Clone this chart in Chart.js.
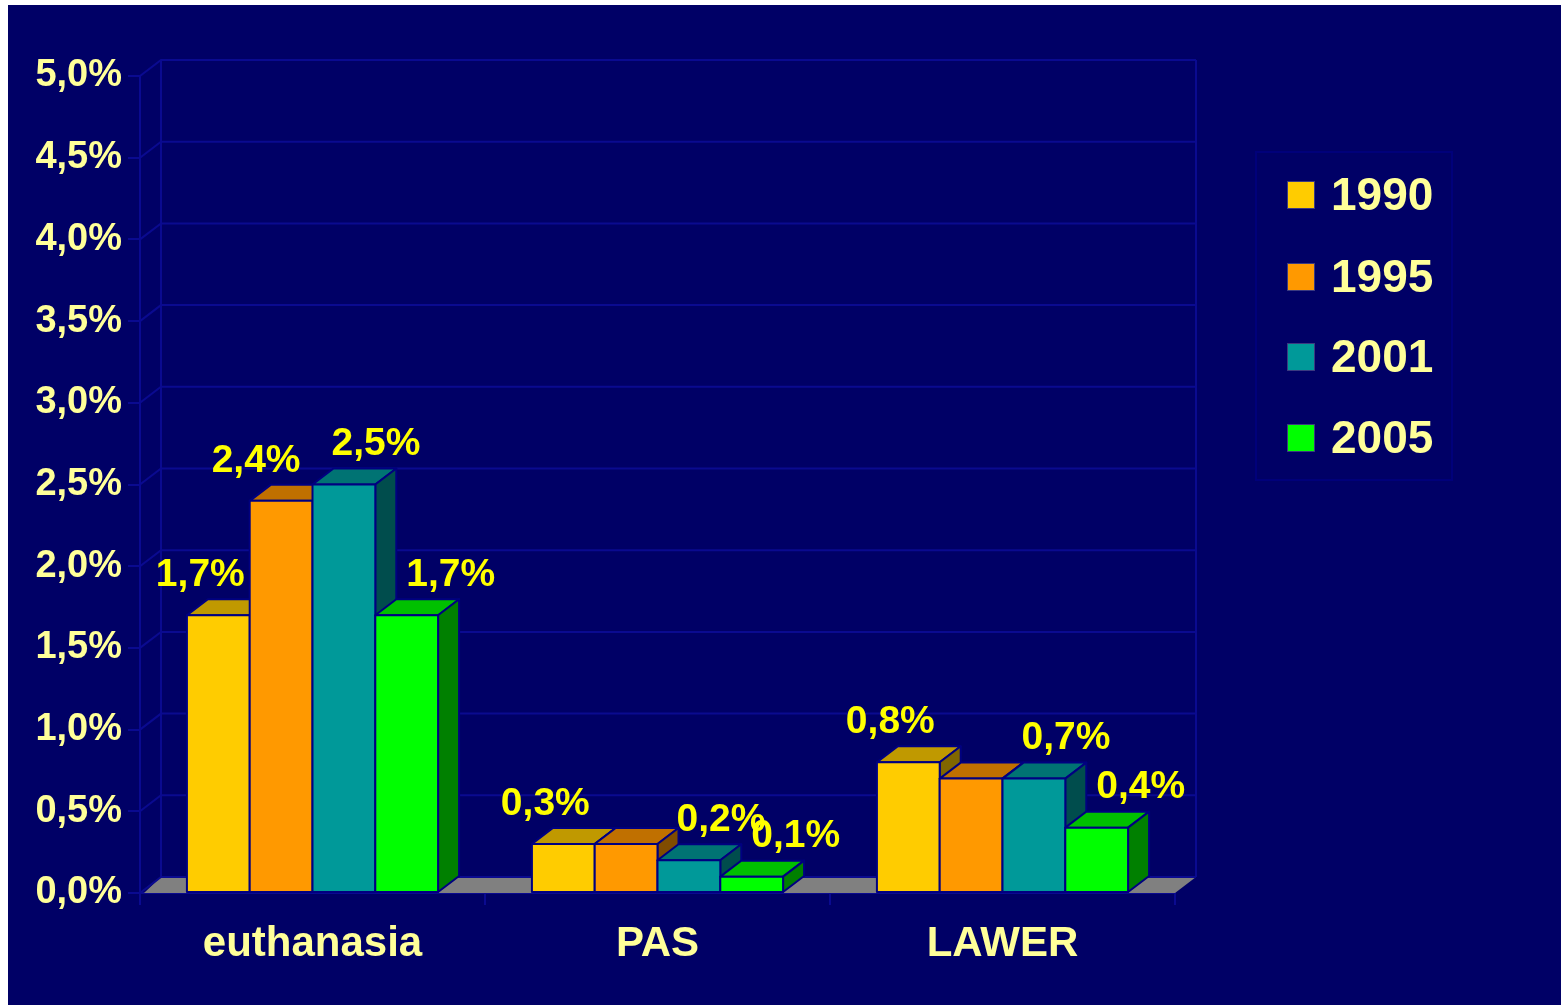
<!DOCTYPE html>
<html>
<head>
<meta charset="utf-8">
<script src="https://cdn.jsdelivr.net/npm/chart.js@4/dist/chart.umd.min.js"></script>
<style>
  html, body { margin: 0; padding: 0; background: #ffffff; }
  #wrap { position: absolute; left: 8px; top: 5px; width: 1553px; height: 1000px; background: #000066; }
</style>
</head>
<body>
<div id="wrap"><canvas id="c"></canvas></div>
<script>
// ---- data ----
const categories = ['euthanasia', 'PAS', 'LAWER'];
const seriesNames = ['1990', '1995', '2001', '2005'];
const values1990 = [1.7, 0.3, 0.8];
const values1995 = [2.4, 0.3, 0.7];
const values2001 = [2.5, 0.2, 0.7];
const values2005 = [1.7, 0.1, 0.4];
const labels1990 = ['1,7%', '0,3%', '0,8%'];
const labels1995 = ['2,4%', null, null];
const labels2001 = ['2,5%', '0,2%', '0,7%'];
const labels2005 = ['1,7%', '0,1%', '0,4%'];
const yMin = 0, yMax = 5, yStep = 0.5;

// ---- styles ----
const FONT = '"Liberation Sans", Arial, sans-serif';
const frontColors = ['#FFCC00', '#FF9900', '#009999', '#00FF00'];
const topColors   = ['#C09900', '#C07000', '#007373', '#00C000'];
const sideColors  = ['#806600', '#804C00', '#004D4D', '#008000'];
const labelOffX   = [-18, -25, 32, 44];
const barBorder = '#000080';
const gridColor = '#0A0A90';
const DX = 21, DY = -16;

const allValues = [values1990, values1995, values2001, values2005];
const allLabels = [labels1990, labels1995, labels2001, labels2005];

const datasets = seriesNames.map((n, i) => ({
  label: n,
  data: allValues[i],
  backgroundColor: frontColors[i],
  borderColor: barBorder,
  borderWidth: 0,
  categoryPercentage: 0.728,
  barPercentage: 1.0
}));

const threeD = {
  id: 'threeD',
  beforeDatasetsDraw(chart) {
    const ctx = chart.ctx;
    const ca = chart.chartArea;
    const ys = chart.scales.y;
    const L = ca.left, R = ca.right;
    const B = ys.getPixelForValue(0);
    ctx.save();
    // floor
    ctx.fillStyle = '#808080';
    ctx.beginPath();
    ctx.moveTo(L + 4, B);
    ctx.lineTo(R, B);
    ctx.lineTo(R + DX, B + DY);
    ctx.lineTo(L + DX, B + DY);
    ctx.closePath();
    ctx.fill();
    // back wall gridlines
    ctx.strokeStyle = gridColor;
    ctx.lineWidth = 2;
    for (let v = yMin; v <= yMax + 1e-9; v += yStep) {
      const y = ys.getPixelForValue(v);
      ctx.beginPath();
      ctx.moveTo(L, y);
      ctx.lineTo(L + DX, y + DY);
      ctx.lineTo(R + DX, y + DY);
      ctx.stroke();
    }
    const yT = ys.getPixelForValue(yMax);
    ctx.beginPath();
    ctx.moveTo(L + DX, yT + DY); ctx.lineTo(L + DX, B + DY);
    ctx.moveTo(R + DX, yT + DY); ctx.lineTo(R + DX, B + DY);
    ctx.stroke();
    ctx.restore();
  },
  afterDatasetsDraw(chart) {
    const ctx = chart.ctx;
    ctx.save();
    ctx.lineWidth = 2;
    ctx.strokeStyle = barBorder;
    ctx.lineJoin = 'round';
    const nCat = categories.length;
    for (let c = 0; c < nCat; c++) {
      for (let d = 0; d < datasets.length; d++) {
        const el = chart.getDatasetMeta(d).data[c];
        const p = el.getProps(['x', 'y', 'base', 'width'], true);
        const l = p.x - p.width / 2, r = p.x + p.width / 2, t = p.y, b = p.base;
        // top
        ctx.fillStyle = topColors[d];
        ctx.beginPath();
        ctx.moveTo(l, t); ctx.lineTo(r, t); ctx.lineTo(r + DX, t + DY); ctx.lineTo(l + DX, t + DY); ctx.closePath();
        ctx.fill(); ctx.stroke();
        // side
        ctx.fillStyle = sideColors[d];
        ctx.beginPath();
        ctx.moveTo(r, t); ctx.lineTo(r + DX, t + DY); ctx.lineTo(r + DX, b + DY); ctx.lineTo(r, b); ctx.closePath();
        ctx.fill(); ctx.stroke();
        // front
        ctx.fillStyle = frontColors[d];
        ctx.beginPath();
        ctx.rect(l, t, r - l, b - t);
        ctx.fill(); ctx.stroke();
      }
    }
    // data labels
    ctx.font = 'bold 39px ' + FONT;
    ctx.fillStyle = '#FFFF00';
    ctx.textAlign = 'center';
    ctx.textBaseline = 'middle';
    for (let d = 0; d < datasets.length; d++) {
      const meta = chart.getDatasetMeta(d);
      for (let c = 0; c < nCat; c++) {
        const txt = allLabels[d][c];
        if (!txt) continue;
        const p = meta.data[c].getProps(['x', 'y'], true);
        ctx.fillText(txt, p.x + labelOffX[d], p.y - 40);
      }
    }
    ctx.restore();
  },
  afterDraw(chart) {
    const ctx = chart.ctx;
    ctx.save();
    // legend box
    ctx.strokeStyle = '#00007A';
    ctx.lineWidth = 2;
    ctx.strokeRect(1248, 147, 196, 328);
    ctx.font = 'bold 46px ' + FONT;
    ctx.textAlign = 'left';
    ctx.textBaseline = 'middle';
    const cy = [190, 272, 352, 433];
    chart.data.datasets.forEach((ds, i) => {
      ctx.fillStyle = frontColors[i];
      ctx.fillRect(1279, cy[i] - 14, 28, 28);
      ctx.strokeStyle = '#3A3A80';
      ctx.lineWidth = 1;
      ctx.strokeRect(1279.5, cy[i] - 13.5, 27, 27);
      ctx.fillStyle = '#FFFF99';
      ctx.fillText(ds.label, 1323, cy[i] + 2);
    });
    ctx.restore();
  }
};

new Chart(document.getElementById('c'), {
  type: 'bar',
  data: { labels: categories, datasets },
  options: {
    responsive: true,
    maintainAspectRatio: false,
    animation: false,
    layout: { padding: { left: 0, right: 386, top: 71, bottom: 0 } },
    plugins: { legend: { display: false }, tooltip: { enabled: false } },
    scales: {
      x: {
        offset: true,
        grid: { offset: true, drawOnChartArea: false, drawTicks: true, tickLength: 12, color: gridColor, lineWidth: 2 },
        border: { display: true, color: gridColor, width: 2 },
        ticks: { color: '#FFFF99', font: { family: FONT, size: 42, weight: 'bold' }, padding: 14, maxRotation: 0 },
        afterFit(s) { s.height = 112; }
      },
      y: {
        min: yMin, max: yMax,
        grid: { drawOnChartArea: false, drawTicks: true, tickLength: 12, color: gridColor, lineWidth: 2 },
        border: { display: true, color: gridColor, width: 2 },
        ticks: {
          stepSize: yStep,
          color: '#FFFF99',
          font: { family: FONT, size: 38, weight: 'bold' },
          padding: 6,
          callback: v => v.toFixed(1).replace('.', ',') + '%'
        },
        afterFit(s) { s.width = 132; }
      }
    }
  },
  plugins: [threeD]
});
</script>
</body>
</html>
